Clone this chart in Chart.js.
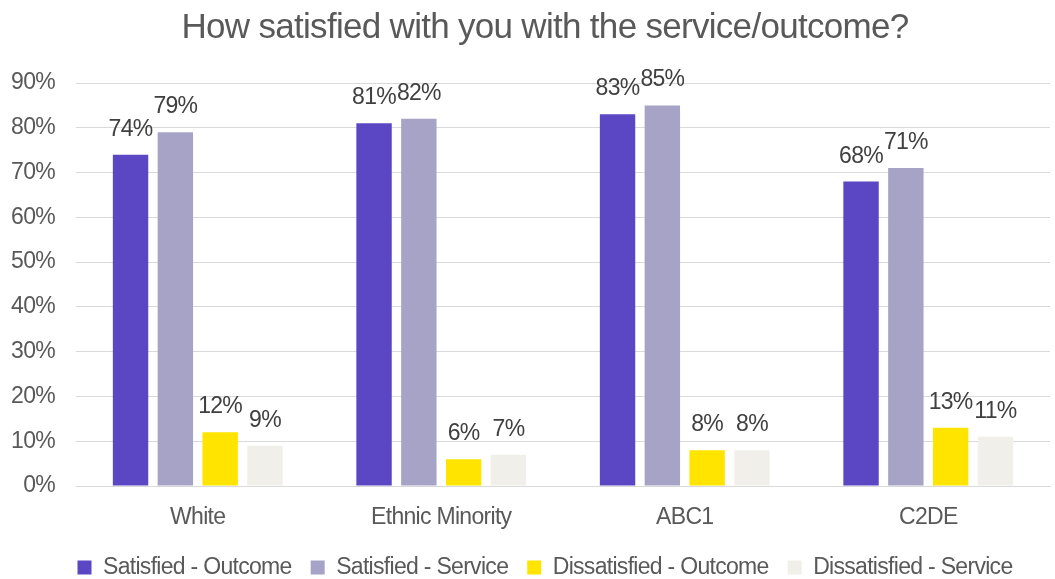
<!DOCTYPE html>
<html>
<head>
<meta charset="utf-8">
<script src="https://cdn.jsdelivr.net/npm/chart.js@4"></script>
<style>
  html, body { margin: 0; padding: 0; background: #fff; }
  #wrap { width: 1055px; height: 579px; }
</style>
</head>
<body>
<div id="wrap"><canvas id="satChart"></canvas></div>
<script>
const categories = ['White', 'Ethnic Minority', 'ABC1', 'C2DE'];
const satisfiedOutcome = [74, 81, 83, 68];
const satisfiedService = [79, 82, 85, 71];
const dissatisfiedOutcome = [12, 6, 8, 13];
const dissatisfiedService = [9, 7, 8, 11];
const yTicks = [0, 10, 20, 30, 40, 50, 60, 70, 80, 90];

const FONT = "'Liberation Sans', Arial, sans-serif";
const SPACING = '-0.7px';

// tighter letter spacing on every text the chart draws or measures
const tightText = {
    id: 'tightText',
    beforeUpdate(chart) { chart.ctx.letterSpacing = SPACING; },
    beforeDraw(chart) { chart.ctx.letterSpacing = SPACING; },
    // let the y tick labels use the space left of the axis box
    afterLayout(chart) { chart.scales.y.left = 0; }
};

// draws the value above each bar
const valueLabels = {
    id: 'valueLabels',
    afterDatasetsDraw(chart) {
        const ctx = chart.ctx;
        ctx.save();
        ctx.letterSpacing = SPACING;
        ctx.font = '23px ' + FONT;
        ctx.fillStyle = '#404040';
        ctx.textAlign = 'center';
        ctx.textBaseline = 'alphabetic';
        chart.data.datasets.forEach((ds, i) => {
            chart.getDatasetMeta(i).data.forEach((bar, j) => {
                ctx.fillText(ds.data[j] + '%', bar.x, bar.y - 19);
            });
        });
        ctx.restore();
    }
};

new Chart(document.getElementById('satChart'), {
    type: 'bar',
    data: {
        labels: categories,
        datasets: [
            { label: 'Satisfied - Outcome', data: satisfiedOutcome, backgroundColor: '#5B46C4' },
            { label: 'Satisfied - Service', data: satisfiedService, backgroundColor: '#A6A3C6' },
            { label: 'Dissatisfied - Outcome', data: dissatisfiedOutcome, backgroundColor: '#FFE400' },
            { label: 'Dissatisfied - Service', data: dissatisfiedService, backgroundColor: '#F0EFEA' }
        ]
    },
    options: {
        responsive: true,
        maintainAspectRatio: false,
        animation: false,
        categoryPercentage: 0.736,
        barPercentage: 0.79,
        layout: { padding: { left: 40, right: 5, top: 6, bottom: -10 } },
        scales: {
            x: {
                grid: { display: false, drawTicks: false },
                border: { color: '#d9d9d9' },
                ticks: { color: '#595959', font: { family: FONT, size: 23 }, padding: 18 },
                afterFit: axis => { axis.height = 51; }
            },
            y: {
                min: 0,
                max: 90,
                afterBuildTicks: axis => { axis.ticks = yTicks.map(v => ({ value: v })); },
                grid: { color: '#d9d9d9', drawTicks: false },
                border: { display: false },
                ticks: {
                    color: '#595959',
                    font: { family: FONT, size: 23 },
                    padding: 21,
                    callback: v => v + '%'
                },
                afterFit: axis => { axis.width = 36; }
            }
        },
        plugins: {
            title: {
                display: true,
                text: 'How satisfied with you with the service/outcome?',
                color: '#595959',
                font: { family: FONT, size: 35, weight: 'normal' },
                padding: { top: 1, bottom: 34 }
            },
            legend: {
                position: 'bottom',
                labels: {
                    color: '#595959',
                    font: { family: FONT, size: 23 },
                    boxWidth: 14,
                    boxHeight: 14,
                    padding: 19
                }
            },
            tooltip: { enabled: false }
        }
    },
    plugins: [tightText, valueLabels]
});
</script>
</body>
</html>
